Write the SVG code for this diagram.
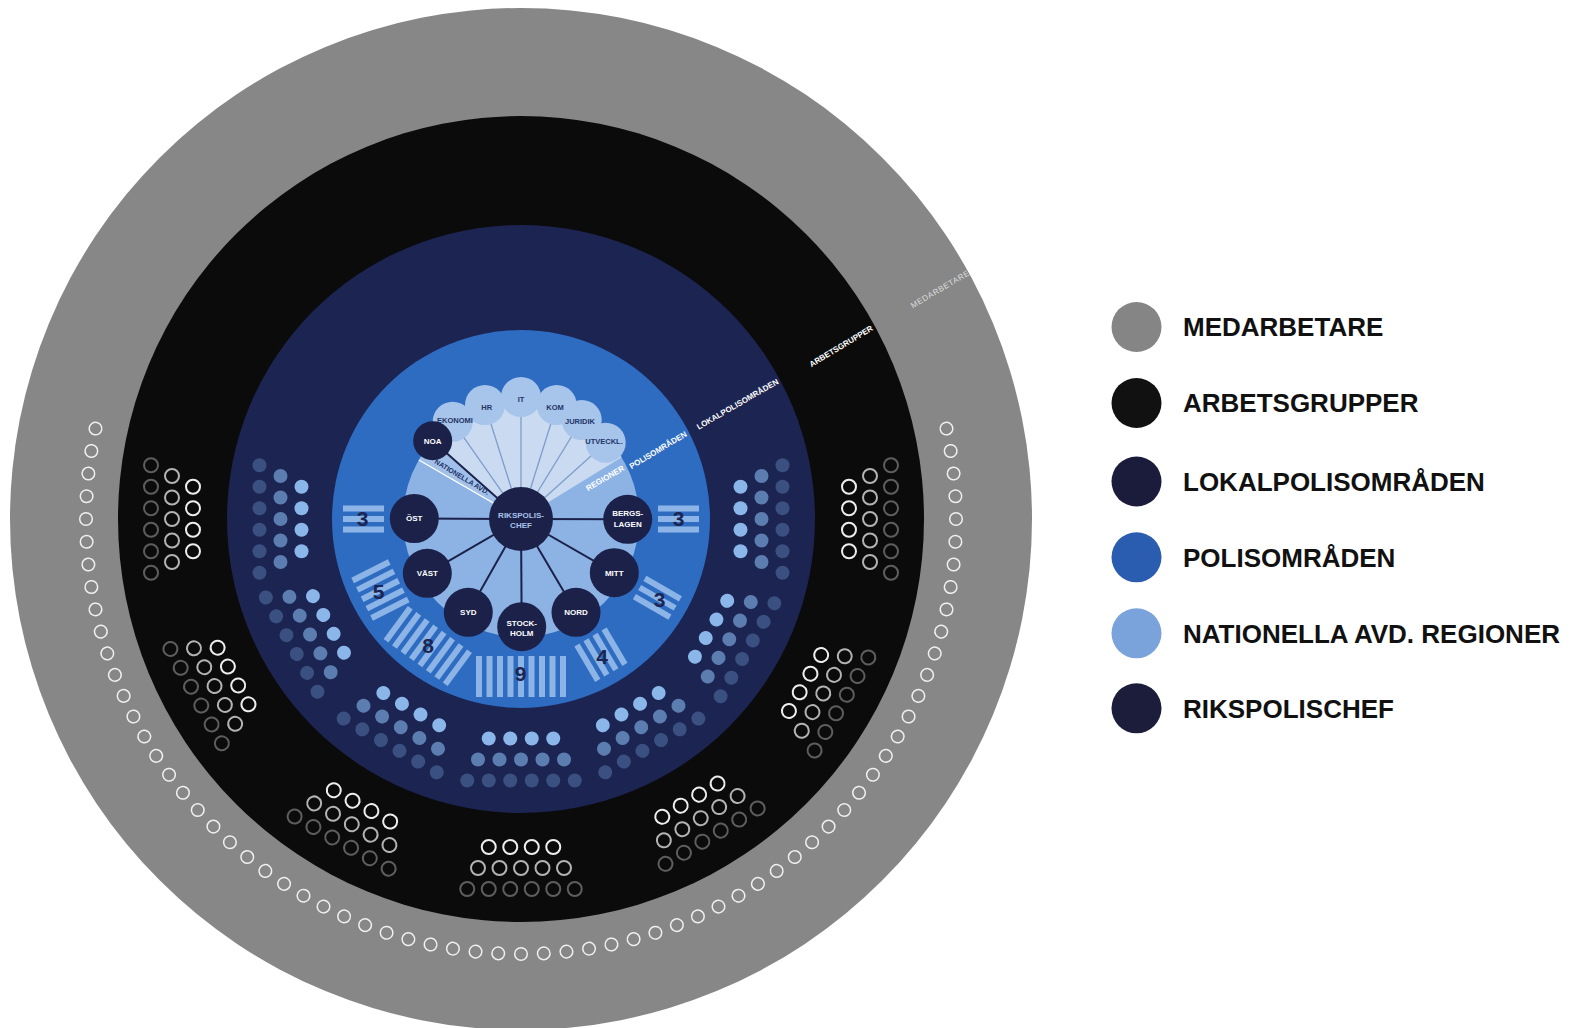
<svg xmlns="http://www.w3.org/2000/svg" width="1579" height="1028" viewBox="0 0 1579 1028">
<style>
text { font-family: "Liberation Sans", Arial, sans-serif; font-weight: bold; }
.leg { font-size: 26px; fill: #111; }
.ring { font-size: 8px; fill: #fff; text-anchor: middle; }
.lbl { font-size: 8px; fill: #fff; text-anchor: middle; }
.chef { font-size: 8px; fill: #a9c1ea; text-anchor: middle; }
.cl { font-size: 7.5px; fill: #233466; text-anchor: middle; }
.num { font-size: 21px; fill: #1c2551; text-anchor: middle; }
.reg { fill: #1b2149; }
.conn { stroke: #1b2149; stroke-width: 2; }
.spoke { stroke: #7d9dcd; stroke-width: 1.3; }
.cloud { fill: #a7c4ea; }
.bar { fill: #8db4e6; }
.li { fill: #8ab6ea; } .lm { fill: #5c7db0; } .lo { fill: #3a5081; }
.ai { fill: none; stroke: #eeeeee; stroke-width: 2; }
.am { fill: none; stroke: #b3b3b3; stroke-width: 2; }
.ao { fill: none; stroke: #5e5e5e; stroke-width: 2; }
.med { fill: none; stroke: #f0f0f0; stroke-width: 1.5; }
</style>
<defs>
<circle id="m" class="med" cx="521" cy="954" r="6.3"/>
<g id="lokal">
<circle class="li" cx="301.5" cy="486.75" r="7"/><circle class="li" cx="301.5" cy="508.25" r="7"/><circle class="li" cx="301.5" cy="529.75" r="7"/><circle class="li" cx="301.5" cy="551.25" r="7"/>
<circle class="lm" cx="280.5" cy="476" r="7"/><circle class="lm" cx="280.5" cy="497.5" r="7"/><circle class="lm" cx="280.5" cy="519" r="7"/><circle class="lm" cx="280.5" cy="540.5" r="7"/><circle class="lm" cx="280.5" cy="562" r="7"/>
<circle class="lo" cx="259.5" cy="465.25" r="7"/><circle class="lo" cx="259.5" cy="486.75" r="7"/><circle class="lo" cx="259.5" cy="508.25" r="7"/><circle class="lo" cx="259.5" cy="529.75" r="7"/><circle class="lo" cx="259.5" cy="551.25" r="7"/><circle class="lo" cx="259.5" cy="572.75" r="7"/>
</g>
<g id="arbets">
<circle class="ai" cx="193" cy="486.75" r="7"/><circle class="ai" cx="193" cy="508.25" r="7"/><circle class="ai" cx="193" cy="529.75" r="7"/><circle class="ai" cx="193" cy="551.25" r="7"/>
<circle class="am" cx="172" cy="476" r="7"/><circle class="am" cx="172" cy="497.5" r="7"/><circle class="am" cx="172" cy="519" r="7"/><circle class="am" cx="172" cy="540.5" r="7"/><circle class="am" cx="172" cy="562" r="7"/>
<circle class="ao" cx="151" cy="465.25" r="7"/><circle class="ao" cx="151" cy="486.75" r="7"/><circle class="ao" cx="151" cy="508.25" r="7"/><circle class="ao" cx="151" cy="529.75" r="7"/><circle class="ao" cx="151" cy="551.25" r="7"/><circle class="ao" cx="151" cy="572.75" r="7"/>
</g>
<g id="b3"><rect class="bar" x="343" y="505.5" width="41" height="6"/><rect class="bar" x="343" y="516" width="41" height="6"/><rect class="bar" x="343" y="526.5" width="41" height="6"/></g>
<g id="b4"><rect class="bar" x="343" y="500.25" width="41" height="6"/><rect class="bar" x="343" y="510.75" width="41" height="6"/><rect class="bar" x="343" y="521.25" width="41" height="6"/><rect class="bar" x="343" y="531.75" width="41" height="6"/></g>
<g id="b5"><rect class="bar" x="343" y="495" width="41" height="6"/><rect class="bar" x="343" y="505.5" width="41" height="6"/><rect class="bar" x="343" y="516" width="41" height="6"/><rect class="bar" x="343" y="526.5" width="41" height="6"/><rect class="bar" x="343" y="537" width="41" height="6"/></g>
<g id="b8"><rect class="bar" x="343" y="479.25" width="41" height="6"/><rect class="bar" x="343" y="489.75" width="41" height="6"/><rect class="bar" x="343" y="500.25" width="41" height="6"/><rect class="bar" x="343" y="510.75" width="41" height="6"/><rect class="bar" x="343" y="521.25" width="41" height="6"/><rect class="bar" x="343" y="531.75" width="41" height="6"/><rect class="bar" x="343" y="542.25" width="41" height="6"/><rect class="bar" x="343" y="552.75" width="41" height="6"/></g>
<g id="b9"><rect class="bar" x="343" y="474" width="41" height="6"/><rect class="bar" x="343" y="484.5" width="41" height="6"/><rect class="bar" x="343" y="495" width="41" height="6"/><rect class="bar" x="343" y="505.5" width="41" height="6"/><rect class="bar" x="343" y="516" width="41" height="6"/><rect class="bar" x="343" y="526.5" width="41" height="6"/><rect class="bar" x="343" y="537" width="41" height="6"/><rect class="bar" x="343" y="547.5" width="41" height="6"/><rect class="bar" x="343" y="558" width="41" height="6"/></g>
</defs>
<rect width="1579" height="1028" fill="#ffffff"/>

<g id="ring-medarbetare">
<circle cx="521" cy="519" r="511" fill="#878787"/>
<g id="medarbetare-circles">
<use href="#m" transform="rotate(-102 521 519)"/><use href="#m" transform="rotate(-99 521 519)"/><use href="#m" transform="rotate(-96 521 519)"/><use href="#m" transform="rotate(-93 521 519)"/><use href="#m" transform="rotate(-90 521 519)"/><use href="#m" transform="rotate(-87 521 519)"/><use href="#m" transform="rotate(-84 521 519)"/><use href="#m" transform="rotate(-81 521 519)"/><use href="#m" transform="rotate(-78 521 519)"/><use href="#m" transform="rotate(-75 521 519)"/><use href="#m" transform="rotate(-72 521 519)"/><use href="#m" transform="rotate(-69 521 519)"/><use href="#m" transform="rotate(-66 521 519)"/><use href="#m" transform="rotate(-63 521 519)"/><use href="#m" transform="rotate(-60 521 519)"/><use href="#m" transform="rotate(-57 521 519)"/><use href="#m" transform="rotate(-54 521 519)"/><use href="#m" transform="rotate(-51 521 519)"/><use href="#m" transform="rotate(-48 521 519)"/><use href="#m" transform="rotate(-45 521 519)"/><use href="#m" transform="rotate(-42 521 519)"/><use href="#m" transform="rotate(-39 521 519)"/><use href="#m" transform="rotate(-36 521 519)"/><use href="#m" transform="rotate(-33 521 519)"/><use href="#m" transform="rotate(-30 521 519)"/><use href="#m" transform="rotate(-27 521 519)"/><use href="#m" transform="rotate(-24 521 519)"/><use href="#m" transform="rotate(-21 521 519)"/><use href="#m" transform="rotate(-18 521 519)"/><use href="#m" transform="rotate(-15 521 519)"/><use href="#m" transform="rotate(-12 521 519)"/><use href="#m" transform="rotate(-9 521 519)"/><use href="#m" transform="rotate(-6 521 519)"/><use href="#m" transform="rotate(-3 521 519)"/><use href="#m"/><use href="#m" transform="rotate(3 521 519)"/><use href="#m" transform="rotate(6 521 519)"/><use href="#m" transform="rotate(9 521 519)"/><use href="#m" transform="rotate(12 521 519)"/><use href="#m" transform="rotate(15 521 519)"/><use href="#m" transform="rotate(18 521 519)"/><use href="#m" transform="rotate(21 521 519)"/><use href="#m" transform="rotate(24 521 519)"/><use href="#m" transform="rotate(27 521 519)"/><use href="#m" transform="rotate(30 521 519)"/><use href="#m" transform="rotate(33 521 519)"/><use href="#m" transform="rotate(36 521 519)"/><use href="#m" transform="rotate(39 521 519)"/><use href="#m" transform="rotate(42 521 519)"/><use href="#m" transform="rotate(45 521 519)"/><use href="#m" transform="rotate(48 521 519)"/><use href="#m" transform="rotate(51 521 519)"/><use href="#m" transform="rotate(54 521 519)"/><use href="#m" transform="rotate(57 521 519)"/><use href="#m" transform="rotate(60 521 519)"/><use href="#m" transform="rotate(63 521 519)"/><use href="#m" transform="rotate(66 521 519)"/><use href="#m" transform="rotate(69 521 519)"/><use href="#m" transform="rotate(72 521 519)"/><use href="#m" transform="rotate(75 521 519)"/><use href="#m" transform="rotate(78 521 519)"/><use href="#m" transform="rotate(81 521 519)"/><use href="#m" transform="rotate(84 521 519)"/><use href="#m" transform="rotate(87 521 519)"/><use href="#m" transform="rotate(90 521 519)"/><use href="#m" transform="rotate(93 521 519)"/><use href="#m" transform="rotate(96 521 519)"/><use href="#m" transform="rotate(99 521 519)"/><use href="#m" transform="rotate(102 521 519)"/>
</g>
<text transform="translate(940 289) rotate(-30.5)" y="2.9" class="ring" style="font-weight:normal;fill:#dcdcdc;letter-spacing:0.6px">MEDARBETARE</text>
</g>

<g id="ring-arbetsgrupper">
<circle cx="521" cy="519" r="403" fill="#0b0b0b"/>
<use href="#arbets"/>
<use href="#arbets" transform="rotate(-28.6 521 519)"/>
<use href="#arbets" transform="rotate(-61 521 519)"/>
<use href="#arbets" transform="rotate(-90 521 519)"/>
<use href="#arbets" transform="rotate(-121 521 519)"/>
<use href="#arbets" transform="rotate(-150 521 519)"/>
<use href="#arbets" transform="rotate(-180 521 519)"/>
<text transform="translate(841 346) rotate(-31)" y="2.9" class="ring">ARBETSGRUPPER</text>
</g>

<g id="ring-lokalpolisomraden">
<circle cx="521" cy="519" r="294" fill="#1c2451"/>
<use href="#lokal"/>
<use href="#lokal" transform="rotate(-28.7 521 519)"/>
<use href="#lokal" transform="rotate(-60 521 519)"/>
<use href="#lokal" transform="rotate(-90 521 519)"/>
<use href="#lokal" transform="rotate(-120 521 519)"/>
<use href="#lokal" transform="rotate(-150 521 519)"/>
<use href="#lokal" transform="rotate(-180 521 519)"/>
<text transform="translate(737.5 404) rotate(-30)" y="2.9" class="ring">LOKALPOLISOMRÅDEN</text>
</g>

<g id="ring-polisomraden">
<circle cx="521" cy="519" r="189" fill="#2e6cc2"/>
<use href="#b3"/>
<use href="#b5" transform="rotate(-26.8 521 519)"/>
<use href="#b8" transform="rotate(-53.7 521 519)"/>
<use href="#b9" transform="rotate(-90 521 519)"/>
<use href="#b4" transform="rotate(-120.5 521 519)"/>
<use href="#b3" transform="rotate(-150 521 519)"/>
<use href="#b3" transform="rotate(-180 521 519)"/>
<text class="num" x="362.5" y="526">3</text>
<text class="num" x="378.6" y="598.5">5</text>
<text class="num" x="428" y="653">8</text>
<text class="num" x="520.6" y="681">9</text>
<text class="num" x="602" y="664">4</text>
<text class="num" x="659.6" y="606.5">3</text>
<text class="num" x="678.7" y="526">3</text>
<text transform="translate(658 450) rotate(-31)" y="2.9" class="ring">POLISOMRÅDEN</text>
</g>

<g id="regioner">
<circle cx="521" cy="519" r="118" fill="#8cb3e4"/>
<path d="M521 519 L418.8 460 A118 118 0 0 1 432.6 440.8 Z" fill="#a2c1ea"/>
<path d="M521 519 L432.6 440.8 A118 118 0 0 1 621.6 457.3 Z" fill="#c9daf1"/>
<line x1="521" y1="519" x2="418.8" y2="460" stroke="#ffffff" stroke-width="1.3"/>
<text transform="translate(605 478) rotate(-30)" y="2.9" class="ring">REGIONER</text>
<text transform="translate(462 477) rotate(31)" y="2.5" class="cl" style="font-size:7px;fill:#1f3366">NATIONELLA AVD.</text>
</g>

<g id="connectors">
<line class="spoke" x1="521" y1="519" x2="452.7" y2="421.7"/>
<line class="spoke" x1="521" y1="519" x2="485" y2="405"/>
<line class="spoke" x1="521" y1="519" x2="521" y2="397"/>
<line class="spoke" x1="521" y1="519" x2="556.7" y2="405"/>
<line class="spoke" x1="521" y1="519" x2="581.7" y2="420"/>
<line class="spoke" x1="521" y1="519" x2="605.7" y2="442.7"/>
<line class="conn" x1="521" y1="519" x2="432.7" y2="440.7"/>
<line class="conn" x1="521" y1="519" x2="414.3" y2="518.5"/>
<line class="conn" x1="521" y1="519" x2="427.3" y2="573.3"/>
<line class="conn" x1="521" y1="519" x2="468.3" y2="612.3"/>
<line class="conn" x1="521" y1="519" x2="521.7" y2="626.7"/>
<line class="conn" x1="521" y1="519" x2="576" y2="612.3"/>
<line class="conn" x1="521" y1="519" x2="614.3" y2="572.7"/>
<line class="conn" x1="521" y1="519" x2="627.7" y2="519.3"/>
</g>

<g id="nationella-avd">
<g id="n-ekonomi"><circle class="cloud" cx="452.7" cy="421.7" r="20"/></g>
<g id="n-hr"><circle class="cloud" cx="485" cy="405" r="20"/></g>
<g id="n-it"><circle class="cloud" cx="521" cy="397" r="20"/></g>
<g id="n-kom"><circle class="cloud" cx="556.7" cy="405" r="20"/></g>
<g id="n-juridik"><circle class="cloud" cx="581.7" cy="420" r="20"/></g>
<g id="n-utveckl"><circle class="cloud" cx="605.7" cy="442.7" r="20"/></g>
<text class="cl" x="455" y="422.7">EKONOMI</text>
<text class="cl" x="486.7" y="410">HR</text>
<text class="cl" x="521" y="401.7">IT</text>
<text class="cl" x="555" y="410">KOM</text>
<text class="cl" x="580" y="424.4">JURIDIK</text>
<text class="cl" x="604" y="444.4">UTVECKL.</text>
</g>

<g id="n-noa"><circle class="reg" cx="432.7" cy="440.7" r="19.5"/><text class="lbl" x="432.7" y="443.6">NOA</text></g>
<g id="r-ost"><circle class="reg" cx="414.3" cy="518.5" r="24.5"/><text class="lbl" x="414.3" y="521.4">ÖST</text></g>
<g id="r-vast"><circle class="reg" cx="427.3" cy="573.3" r="24.5"/><text class="lbl" x="427.3" y="576.2">VÄST</text></g>
<g id="r-syd"><circle class="reg" cx="468.3" cy="612.3" r="24.5"/><text class="lbl" x="468.3" y="615.2">SYD</text></g>
<g id="r-stockholm"><circle class="reg" cx="521.7" cy="626.7" r="24.5"/><text class="lbl" x="521.7" y="625.6">STOCK-</text><text class="lbl" x="521.7" y="636.2">HOLM</text></g>
<g id="r-nord"><circle class="reg" cx="576" cy="612.3" r="24.5"/><text class="lbl" x="576" y="615.2">NORD</text></g>
<g id="r-mitt"><circle class="reg" cx="614.3" cy="572.7" r="24.5"/><text class="lbl" x="614.3" y="575.6">MITT</text></g>
<g id="r-bergslagen"><circle class="reg" cx="627.7" cy="519.3" r="24.5"/><text class="lbl" x="627.7" y="516.2">BERGS-</text><text class="lbl" x="627.7" y="527.2">LAGEN</text></g>
<g id="rikspolischef"><circle class="reg" cx="521" cy="519" r="32"/><text class="chef" x="521" y="517.9">RIKSPOLIS-</text><text class="chef" x="521" y="528.3">CHEF</text></g>

<g id="legend">
<g id="leg-medarbetare"><circle cx="1136.5" cy="327" r="25" fill="#858585"/><text class="leg" x="1183" y="336.3">MEDARBETARE</text></g>
<g id="leg-arbetsgrupper"><circle cx="1136.5" cy="403" r="25" fill="#111111"/><text class="leg" x="1183" y="412.3">ARBETSGRUPPER</text></g>
<g id="leg-lokal"><circle cx="1136.5" cy="481.5" r="25" fill="#1b1c3b"/><text class="leg" x="1183" y="490.8">LOKALPOLISOMRÅDEN</text></g>
<g id="leg-polis"><circle cx="1136.5" cy="557.3" r="25" fill="#2a5db0"/><text class="leg" x="1183" y="566.6">POLISOMRÅDEN</text></g>
<g id="leg-nationella"><circle cx="1136.5" cy="633.3" r="25" fill="#7aa3dc"/><text class="leg" x="1183" y="642.6">NATIONELLA AVD. REGIONER</text></g>
<g id="leg-rikspolischef"><circle cx="1136.5" cy="708.3" r="25" fill="#1b1d3b"/><text class="leg" x="1183" y="717.6">RIKSPOLISCHEF</text></g>
</g>
</svg>
